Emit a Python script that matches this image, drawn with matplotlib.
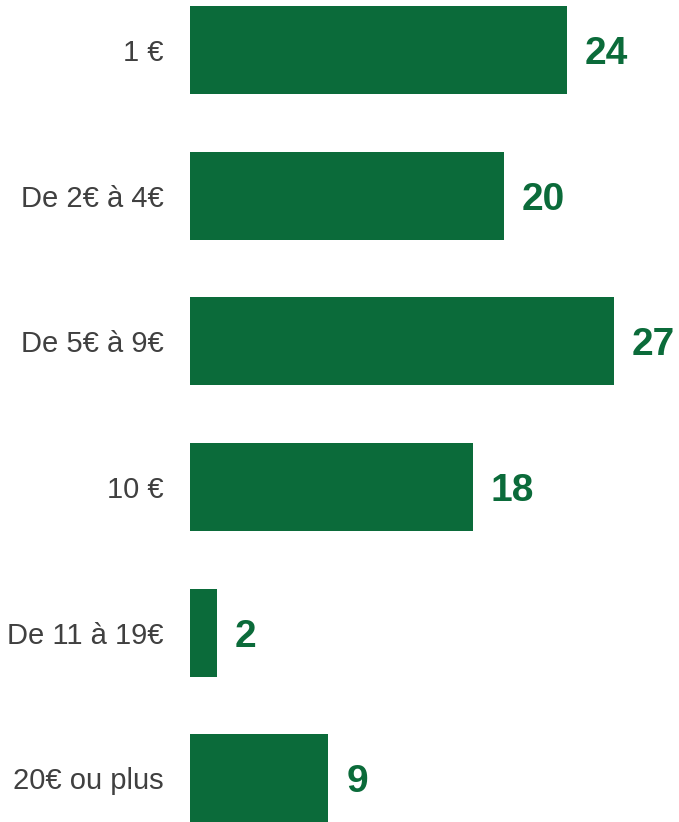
import matplotlib.pyplot as plt
import numpy as np

categories = ['1 €', 'De 2€ à 4€', 'De 5€ à 9€', '10 €', 'De 11 à 19€', '20€ ou plus']
values = [24, 20, 27, 18, 1.7, 8.8]
labels = ['24', '20', '27', '18', '2', '9']

plt.rcParams['font.family'] = ['Liberation Sans', 'DejaVu Sans']
green = '#0b6b3a'

fig = plt.figure(figsize=(6.79, 8.22), dpi=100)
ax = fig.add_axes([190 / 679, 0, 489 / 679, 1])

y = np.arange(len(categories))
ax.barh(y, values, height=0.604, color=green)
for yi, v, lab in zip(y, values, labels):
    ax.annotate(lab, (v, yi), xytext=(13, 0), textcoords='offset points',
                ha='left', va='center_baseline', fontsize=28, fontweight='bold', color=green)

ax.set_xlim(0, 31.15)
ax.set_ylim(5.30, -0.343)
ax.set_yticks(y)
ax.set_yticklabels(categories, fontsize=21, color='#404040')
ax.tick_params(axis='y', length=0, pad=19)
ax.set_xticks([])
for s in ax.spines.values():
    s.set_visible(False)

fig.savefig('out.png', dpi=100)
